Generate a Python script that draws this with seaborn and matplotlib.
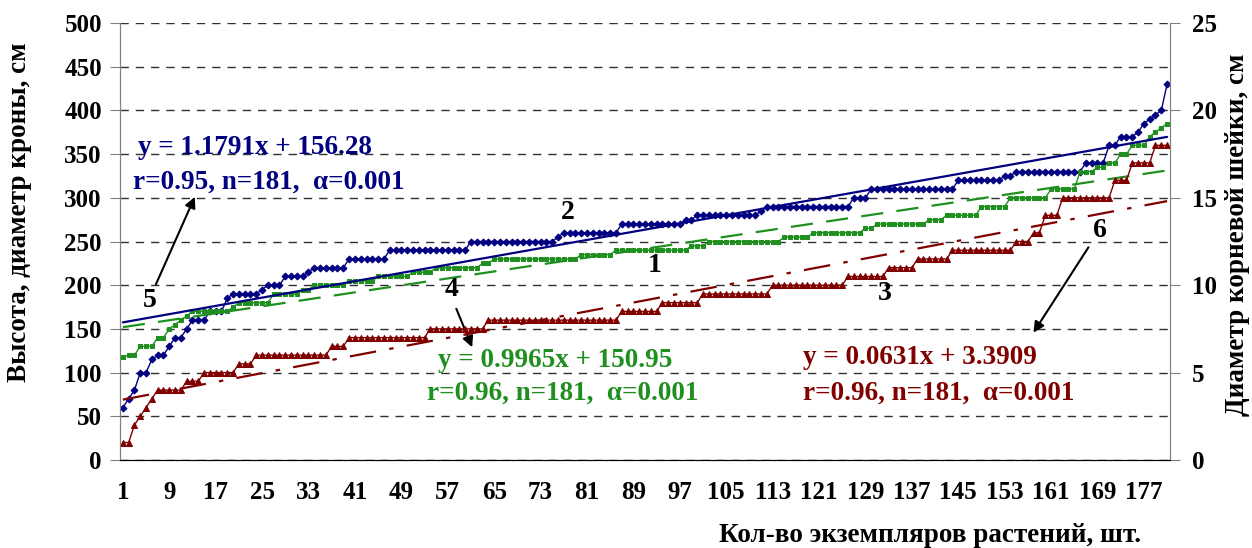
import matplotlib
matplotlib.use('Agg')
import matplotlib.pyplot as plt
import numpy as np
import pandas as pd
import seaborn as sns

# values read off the chart as steps: level and number of plants at that level
# series 1 (green squares, left axis)
s1_vals = [118, 120, 130, 140, 150, 155, 160, 165, 170, 175, 180, 190, 195, 200, 205,
           210, 215, 220, 225, 230, 235, 240, 245, 250, 255, 260, 265, 270, 275, 280,
           290, 300, 310, 330, 335, 340, 350, 360, 370, 375, 380, 385]
s1_counts = [1, 2, 3, 2, 1, 1, 1, 1, 7, 1, 6, 5, 2, 6, 5,
             6, 4, 8, 2, 15, 6, 13, 3, 13, 5, 9, 2, 9, 3, 6,
             5, 7, 5, 3, 2, 2, 2, 3, 1, 1, 1, 1]
# series 2 (blue diamonds, left axis)
s2_vals = [60, 70, 80, 100, 115, 120, 130, 140, 150, 160, 170, 185, 190, 195, 200,
           210, 215, 220, 230, 240, 250, 255, 260, 270, 275, 280, 285, 290, 300, 310,
           320, 325, 330, 340, 360, 370, 375, 385, 390, 395, 400, 430]
s2_counts = [1, 1, 1, 2, 1, 2, 1, 2, 1, 3, 3, 1, 5, 1, 3,
             4, 1, 6, 7, 14, 15, 1, 10, 11, 2, 11, 1, 15, 3, 15,
             8, 2, 12, 4, 2, 3, 1, 1, 1, 1, 1, 1]
# series 3 (red triangles, right axis, cm)
s3_vals = [1.0, 2.0, 2.5, 3.0, 3.5, 4.0, 4.5, 5.0, 5.5, 6.0, 6.5, 7.0, 7.5, 8.0, 8.5,
           9.0, 9.5, 10.0, 10.5, 11.0, 11.5, 12.0, 12.5, 13.0, 14.0, 15.0, 16.0, 17.0, 18.0]
s3_counts = [2, 1, 1, 1, 1, 5, 3, 6, 3, 13, 3, 14, 10, 23, 7,
             7, 12, 13, 7, 5, 6, 11, 3, 2, 3, 9, 3, 4, 3]

# linear trends printed on the chart (green, blue, red)
trend_slope = [0.9965, 1.1791, 0.0631]
trend_icpt = [150.95, 156.28, 3.3909]

x_tick_labels = ['1', '9', '17', '25', '33', '41', '49', '57', '65', '73', '81', '89',
                 '97', '105', '113', '121', '129', '137', '145', '153', '161', '169', '177']

df = pd.DataFrame({'s1': np.repeat(s1_vals, s1_counts),
                   's2': np.repeat(s2_vals, s2_counts),
                   's3': np.repeat(s3_vals, s3_counts)})
df['n'] = np.arange(1, len(df) + 1)
df['t1'] = trend_slope[0] * df['n'] + trend_icpt[0]
df['t2'] = trend_slope[1] * df['n'] + trend_icpt[1]
df['t3'] = trend_slope[2] * df['n'] + trend_icpt[2]

sns.set_style('white')
plt.rcParams['font.family'] = ['Liberation Serif', 'DejaVu Serif']
plt.rcParams['font.weight'] = 'bold'
plt.rcParams['text.color'] = 'black'
plt.rcParams['axes.labelcolor'] = 'black'
plt.rcParams['xtick.color'] = 'black'
plt.rcParams['ytick.color'] = 'black'

BLUE = '#000080'
GREEN = '#1f8f1f'
RED = '#800000'
FS = 19.5
TS = 18

fig = plt.figure(figsize=(12.52, 5.48), dpi=100)
ax = fig.add_axes([0.0958, 0.1606, 0.8387, 0.7974])
ax2 = ax.twinx()

# grid
ax.set_axisbelow(True)
ax.yaxis.grid(True, linestyle=(0, (6, 5)), color='#303030', linewidth=1)

# series
sns.lineplot(data=df, x='n', y='s2', ax=ax, color=BLUE, marker='D', markersize=3.5,
             markeredgecolor=BLUE, linewidth=1)
sns.lineplot(data=df, x='n', y='s1', ax=ax, color=GREEN, marker='s', markersize=3.5,
             markeredgecolor=GREEN, linewidth=1)
sns.lineplot(data=df, x='n', y='t2', ax=ax, color=BLUE, linewidth=1.6)
sns.lineplot(data=df, x='n', y='t1', ax=ax, color=GREEN, linewidth=1.6, linestyle=(0, (10, 6)))

sns.lineplot(data=df, x='n', y='s3', ax=ax2, color=RED, marker='^', markersize=4.8,
             markeredgecolor=RED, linewidth=1)
sns.lineplot(data=df, x='n', y='t3', ax=ax2, color=RED, linewidth=1.6,
             linestyle=(0, (12, 6, 2, 6)))

# axes
ax.set_xlim(0.5, len(df) + 0.5)
ax.set_ylim(0, 500)
ax2.set_ylim(0, 25)
ax.set_yticks(np.arange(0, 501, 50))
ax2.set_yticks(np.arange(0, 26, 5))
ax.set_xticks(np.arange(1, len(df) + 1, 8))
ax.set_xticklabels(x_tick_labels)
ax.set_xticks(np.arange(0.5, len(df) + 1, 1), minor=True)

for a in (ax, ax2):
    a.spines['top'].set_visible(False)
    a.spines['left'].set_color('#808080')
    a.spines['right'].set_color('#808080')
    a.spines['bottom'].set_color('black')

ax.tick_params(axis='x', which='major', length=0, pad=15, labelsize=TS)
ax.tick_params(axis='x', which='minor', direction='inout', length=9, width=0.9, color='black')
ax.tick_params(axis='y', direction='out', length=7, color='#808080', labelsize=TS, pad=6)
ax2.tick_params(axis='y', direction='out', length=7, color='#808080', labelsize=TS, pad=9)

ax.set_xlabel('')
ax.set_ylabel('Высота, диаметр кроны, см', fontsize=FS, fontweight='bold')
ax.yaxis.set_label_coords(-0.084, 0.567)
ax2.set_ylabel('Диаметр корневой шейки, см', fontsize=FS, fontweight='bold')
ax2.yaxis.set_label_coords(1.052, 0.515)
fig.text(930 / 1252, 1 - 535 / 548, 'Кол-во экземпляров растений, шт.', fontsize=FS,
         fontweight='bold', ha='center', va='center')

# equations
ax.text(3.6, 357, 'y = 1.1791x + 156.28', color=BLUE, fontsize=FS, fontweight='bold',
        va='center', ha='left')
ax.text(2.7, 318, 'r=0.95, n=181,  α=0.001', color=BLUE, fontsize=FS, fontweight='bold',
        va='center', ha='left')
ax.text(55.3, 114, 'y = 0.9965x + 150.95', color=GREEN, fontsize=FS, fontweight='bold',
        va='center', ha='left')
ax.text(53.4, 77, 'r=0.96, n=181,  α=0.001', color=GREEN, fontsize=FS, fontweight='bold',
        va='center', ha='left')
ax.text(118.2, 117, 'y = 0.0631x + 3.3909', color=RED, fontsize=FS, fontweight='bold',
        va='center', ha='left')
ax.text(118.2, 77, 'r=0.96, n=181,  α=0.001', color=RED, fontsize=FS, fontweight='bold',
        va='center', ha='left')

# curve numbers and arrows
for label, xpos, ypos in [('1', 92.7, 223), ('2', 77.7, 283), ('3', 132.4, 191),
                          ('4', 57.6, 195), ('5', 5.7, 183), ('6', 169.4, 263)]:
    ax.text(xpos, ypos, label, fontsize=20, fontweight='bold', ha='center', va='center',
            color='black')

arrow = dict(arrowstyle='-|>', color='black', lw=1.5, mutation_scale=16)
ax.annotate('', xy=(13.6, 304), xytext=(6.5, 198), arrowprops=arrow)
ax.annotate('', xy=(61.4, 126), xytext=(58.3, 176), arrowprops=arrow)
ax.annotate('', xy=(157.7, 143), xytext=(167.7, 246), arrowprops=arrow)

fig.savefig('out.png', dpi=100)
